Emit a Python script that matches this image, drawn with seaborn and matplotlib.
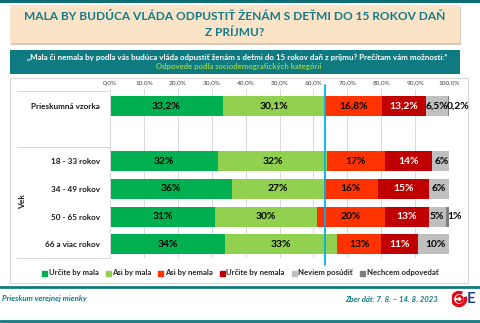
import matplotlib
matplotlib.use("Agg")
import matplotlib.pyplot as plt
from matplotlib.patches import Rectangle, Arc
from matplotlib.lines import Line2D
import numpy as np
import pandas as pd
import seaborn as sns

# ---- data ----
rows = ["Prieskumná vzorka", "18 - 33 rokov", "34 - 49 rokov", "50 - 65 rokov", "66 a viac rokov"]
row_pos = [0, 2, 3, 4, 5]
series = ["Určite by mala", "Asi by mala", "Asi by nemala", "Určite by nemala",
          "Neviem posúdiť", "Nechcem odpovedať"]
urcite_mala = [33.2, 32, 36, 31, 34]
asi_mala = [30.1, 32, 27, 30, 33]
asi_nemala = [16.8, 17, 16, 20, 13]
urcite_nemala = [13.2, 14, 15, 13, 11]
neviem = [6.5, 6, 6, 5, 10]
nechcem = [0.2, 0, 0, 1, 0]
reference_line = 63.3
x_ticks = [0, 10, 20, 30, 40, 50, 60, 70, 80, 90, 100]

values = [urcite_mala, asi_mala, asi_nemala, urcite_nemala, neviem, nechcem]
colors = ["#00B050", "#92D050", "#FF3300", "#C00000", "#BFBFBF", "#7F7F7F"]
text_colors = ["black", "black", "black", "white", "black", "black"]

TEAL = "#0F7B80"
TITLE_TEAL = "#127A88"
BEIGE = "#FAE3C7"

sns.set_theme(style="white")
plt.rcParams["font.family"] = ["Lato", "DejaVu Sans"]

W, H = 480, 323
fig = plt.figure(figsize=(W / 100, H / 100), dpi=100)


def fx(px):
    return px / W


def fy(py):
    return 1 - py / H


def box(x0, y0, x1, y1, **kw):
    fig.patches.append(Rectangle((fx(x0), fy(y1)), fx(x1 - x0), (y1 - y0) / H,
                                 transform=fig.transFigure, zorder=-2, **kw))


def hline(y, x0, x1, color, lw):
    fig.add_artist(Line2D([fx(x0), fx(x1)], [fy(y), fy(y)], color=color, lw=lw,
                          transform=fig.transFigure, zorder=-1))


# frame strips
hline(1, 0, 480, "#0F6E74", 2.2)
hline(287, 0, 480, TEAL, 2.0)
hline(321, 0, 480, TEAL, 2.0)

# title band
box(11, 7, 461, 45, facecolor="#D8C8B4", edgecolor="none")
box(10, 5, 460, 43, facecolor=BEIGE, edgecolor="none")
fig.text(fx(235), fy(17), "MALA BY BUDÚCA VLÁDA ODPUSTIŤ ŽENÁM S DEŤMI DO 15 ROKOV DAŇ",
         ha="center", va="center", fontsize=8.6, fontweight="bold", color=TITLE_TEAL)
fig.text(fx(235), fy(33), "Z PRÍJMU?", ha="center", va="center", fontsize=8.6,
         fontweight="bold", color=TITLE_TEAL)

# question band
box(10, 50, 460, 74, facecolor=TEAL, edgecolor="none")
fig.text(fx(237), fy(57),
         "„Mala či nemala by podľa vás budúca vláda odpustiť ženám s deťmi do 15 rokov daň z príjmu? Prečítam vám možnosti:“",
         ha="center", va="center", fontsize=5.8, fontweight="bold", color="white")
fig.text(fx(239), fy(67), "Odpovede podľa sociodemografických kategórií",
         ha="center", va="center", fontsize=5.6, fontweight="bold", color="#92D050")

# chart panel
box(11, 79, 469, 284, facecolor="#E4E4E4", edgecolor="none")
box(10, 78, 468, 283, facecolor="white", edgecolor="#D9D9D9", lw=0.8)

# ---- chart ----
ax_left, ax_right, ax_top, ax_bottom = 110, 449, 89, 258
ax = fig.add_axes([fx(ax_left), fy(ax_bottom), fx(ax_right - ax_left), (ax_bottom - ax_top) / H])
ax.set_facecolor("none")

df = pd.DataFrame({"pos": row_pos})
cum = np.cumsum(np.array(values), axis=0)
for i in reversed(range(len(series))):
    df["end"] = cum[i]
    sns.barplot(data=df, x="end", y="pos", orient="h", native_scale=True,
                color=colors[i], width=0.72, errorbar=None, saturation=1,
                linewidth=0, ax=ax)

ax.set_xlim(0, 100)
ax.set_ylim(5.5, -0.62)
ax.xaxis.tick_top()
ax.set_xticks(x_ticks)
ax.set_xticklabels([f"{t:.1f}%".replace(".", ",") for t in x_ticks],
                   fontsize=4.6, color="#404040")
ax.tick_params(axis="x", length=0, pad=3)
ax.set_yticks(row_pos)
ax.set_yticklabels(rows, fontsize=5.9, fontweight="bold", color="#1A1A1A")
ax.tick_params(axis="y", length=0, pad=7)
ax.set_xlabel("")
ax.set_ylabel("")
ax.grid(axis="x", color="#D9D9D9", lw=0.7)
ax.set_axisbelow(True)
for side in ["top", "right", "bottom"]:
    ax.spines[side].set_visible(False)
ax.spines["left"].set_color("#D9D9D9")
ax.spines["left"].set_linewidth(0.7)

# value labels
for i in range(len(series)):
    for r, p in enumerate(row_pos):
        v = values[i][r]
        if v <= 0:
            continue
        txt = f"{v:.1f}%".replace(".", ",") if v != int(v) else f"{int(v)}%"
        end = cum[i][r]
        if v < 2:
            # tiny segments get their label just past the bar end
            ax.text(99.4, p, txt, ha="left", va="center", fontsize=7.4,
                    fontweight="bold", color="black", clip_on=False)
        else:
            ax.text(end - v / 2, p, txt, ha="center", va="center", fontsize=7.4,
                    fontweight="bold", color=text_colors[i])

# reference line for the whole sample
ax.plot([reference_line, reference_line], [-0.78, 5.75], color="#00B0F0", lw=1.3,
        clip_on=False, zorder=5)

# group separators in the label column
for y in [91, 147, 258]:
    hline(y, 17, 110, "#D9D9D9", 0.7)
fig.text(fx(23), fy(202), "Vek", rotation=90, ha="center", va="center",
         fontsize=6.0, fontweight="bold", color="#1A1A1A")

# legend
handles = [Line2D([], [], marker="s", ls="none", markersize=3.6, color=c) for c in colors]
fig.legend(handles, series, loc="center", bbox_to_anchor=(fx(240), fy(273)), ncol=6,
           frameon=False, handlelength=0.6, handletextpad=0.3, columnspacing=0.85,
           prop={"size": 5.6, "weight": "bold"})

# footer
fig.text(fx(2), fy(299), "Prieskum verejnej mienky", ha="left", va="center",
         fontsize=5.7, fontweight="bold", style="italic", color=TEAL)
fig.text(fx(438), fy(299), "Zber dát: 7. 8. – 14. 8. 2023", ha="right", va="center",
         fontsize=5.6, fontweight="bold", style="italic", color=TEAL)
logo = fig.add_axes([fx(452), fy(308), fx(28), 18 / H])
logo.set_xlim(0, 28)
logo.set_ylim(0, 18)
logo.axis("off")
logo.add_patch(Arc((7, 9), 13, 13, theta1=60, theta2=380, color="#E30613", lw=2.4))
logo.add_patch(Arc((7.5, 9), 6, 6, theta1=200, theta2=520, color="#E30613", lw=1.6))
logo.text(15, 9, "E", ha="left", va="center", fontsize=11, fontweight="bold",
          color="#1F3F8F")

fig.savefig("out.png", dpi=100)
